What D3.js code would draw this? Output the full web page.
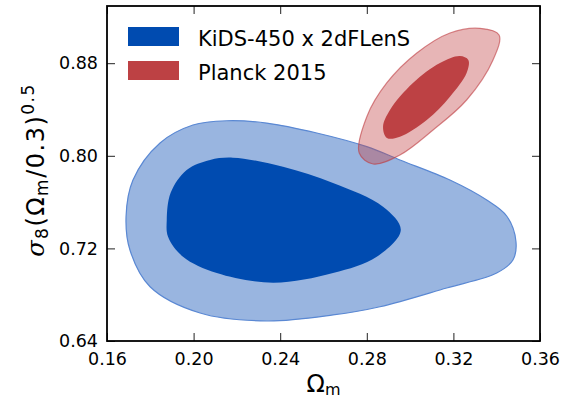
<!DOCTYPE html>
<html>
<head>
<meta charset="utf-8">
<script src="https://cdn.jsdelivr.net/npm/d3@7"></script>
<style>
body { margin: 0; background: #fff; }
svg text { font-family: "DejaVu Sans", sans-serif; fill: #000; }
</style>
</head>
<body>
<svg id="chart" width="562" height="398"></svg>
<script>
// contour outlines, [Omega_m, sigma8 (Om/0.3)^0.5]
var kidsOuter = [
    [0.1688, 0.7474], [0.1720, 0.7791], [0.1845, 0.8111], [0.1997, 0.8266],
    [0.2153, 0.8303], [0.2338, 0.8283], [0.2569, 0.8197], [0.2800, 0.8079],
    [0.2953, 0.7964], [0.3184, 0.7791], [0.3354, 0.7618], [0.3446, 0.7480],
    [0.3489, 0.7258], [0.3475, 0.7100], [0.3400, 0.6987], [0.3169, 0.6858],
    [0.2861, 0.6696], [0.2644, 0.6625], [0.2338, 0.6573], [0.2030, 0.6642],
    [0.1799, 0.6869], [0.1706, 0.7186]
];
var kidsInner = [
    [0.1876, 0.7445], [0.1894, 0.7680], [0.1968, 0.7877], [0.2076, 0.7964],
    [0.2182, 0.7984], [0.2413, 0.7906], [0.2644, 0.7765], [0.2875, 0.7560],
    [0.2957, 0.7359], [0.2846, 0.7128], [0.2644, 0.6987], [0.2367, 0.6904],
    [0.2107, 0.6987], [0.1951, 0.7128], [0.1882, 0.7301]
];
var planckOuter = [
    [0.3411, 0.9044], [0.3323, 0.9101], [0.3184, 0.9061], [0.3031, 0.8888],
    [0.2892, 0.8629], [0.2800, 0.8338], [0.2765, 0.8024], [0.2829, 0.7929],
    [0.2953, 0.8007], [0.3106, 0.8223], [0.3261, 0.8482], [0.3383, 0.8828]
];
var planckInner = [
    [0.3269, 0.8828], [0.3230, 0.8862], [0.3138, 0.8802], [0.3013, 0.8629],
    [0.2907, 0.8396], [0.2875, 0.8251], [0.2893, 0.8154], [0.2953, 0.8165],
    [0.3077, 0.8309], [0.3184, 0.8511], [0.3261, 0.8715]
];
var xTicks = [0.16, 0.20, 0.24, 0.28, 0.32, 0.36];
var yTicks = [0.64, 0.72, 0.80, 0.88];
var legendLabels = ["KiDS-450 x 2dFLenS", "Planck 2015"];
var legendColors = ["#004bb0", "#bd4144"];

var svg = d3.select('#chart');
var pLeft = 107, pRight = 540, pTop = 6, pBottom = 341;

var x = d3.scaleLinear().domain([0.16, 0.36]).range([pLeft, pRight]);
var y = d3.scaleLinear().domain([0.64, 0.64 + (pBottom - pTop) / 92.6 * 0.08]).range([pBottom, pTop]);

var line = d3.line()
    .x(function(d) { return x(d[0]); })
    .y(function(d) { return y(d[1]); })
    .curve(d3.curveCatmullRomClosed.alpha(0.5));

svg.append('path').attr('d', line(kidsOuter))
    .attr('fill', '#99b5e0').attr('stroke', '#5a88d3').attr('stroke-width', 1.2);
svg.append('path').attr('d', line(kidsInner))
    .attr('fill', '#004bb0');
svg.append('path').attr('d', line(planckOuter))
    .attr('fill', 'rgba(195,70,72,0.4)').attr('stroke', 'rgba(190,60,65,0.6)').attr('stroke-width', 1.2);
svg.append('path').attr('d', line(planckInner))
    .attr('fill', '#bd4144');

// axes, ticks pointing inwards
var gx = svg.append('g').attr('transform', 'translate(0,' + pBottom + ')')
    .call(d3.axisBottom(x).tickValues(xTicks).tickSizeInner(-8).tickSizeOuter(0)
        .tickFormat(d3.format('.2f')));
gx.selectAll('text').attr('y', 12).attr('dy', '0.71em');
var gy = svg.append('g').attr('transform', 'translate(' + pLeft + ',0)')
    .call(d3.axisLeft(y).tickValues(yTicks).tickSizeInner(-8).tickSizeOuter(0)
        .tickFormat(d3.format('.2f')));
gy.selectAll('text').attr('x', -9);
svg.append('g').attr('transform', 'translate(0,' + pTop + ')')
    .call(d3.axisTop(x).tickValues(xTicks).tickSizeInner(-8).tickSizeOuter(0).tickFormat(''));
svg.append('g').attr('transform', 'translate(' + pRight + ',0)')
    .call(d3.axisRight(y).tickValues(yTicks).tickSizeInner(-8).tickSizeOuter(0).tickFormat(''));

svg.selectAll('.domain').remove();
svg.selectAll('.tick line').attr('stroke', '#222').attr('stroke-width', 1);
svg.selectAll('.tick text').attr('font-family', '"DejaVu Sans", sans-serif')
    .attr('font-size', 17.5).attr('fill', '#000');

svg.append('rect')
    .attr('x', pLeft).attr('y', pTop)
    .attr('width', pRight - pLeft).attr('height', pBottom - pTop)
    .attr('fill', 'none').attr('stroke', '#000').attr('stroke-width', 1.8);

// legend
var legend = svg.append('g');
legendLabels.forEach(function(label, i) {
    legend.append('rect')
        .attr('x', 128).attr('y', 27 + i * 34)
        .attr('width', 51).attr('height', 19)
        .attr('fill', legendColors[i]);
    legend.append('text')
        .attr('x', 198).attr('y', 46 + i * 34)
        .attr('font-size', 21)
        .text(label);
});

// axis labels
var xl = svg.append('text')
    .attr('x', (pLeft + pRight) / 2).attr('y', 392)
    .attr('text-anchor', 'middle').attr('font-size', 24);
xl.append('tspan').text('Ω');
xl.append('tspan').attr('font-size', 16).attr('dy', 3).text('m');

var yl = svg.append('text')
    .attr('transform', 'translate(44,170) rotate(-90)')
    .attr('text-anchor', 'middle').attr('font-size', 24)
    .attr('letter-spacing', 1.5);
yl.append('tspan').attr('font-style', 'italic').attr('font-family', '"DejaVu Serif", serif').text('σ');
yl.append('tspan').attr('font-size', 17).attr('dy', 4).text('8');
yl.append('tspan').attr('dy', -4).text('(Ω');
yl.append('tspan').attr('font-size', 17).attr('dy', 4).text('m');
yl.append('tspan').attr('dy', -4).text('/0.3)');
yl.append('tspan').attr('font-size', 17).attr('dy', -10).text('0.5');
</script>
</body>
</html>
